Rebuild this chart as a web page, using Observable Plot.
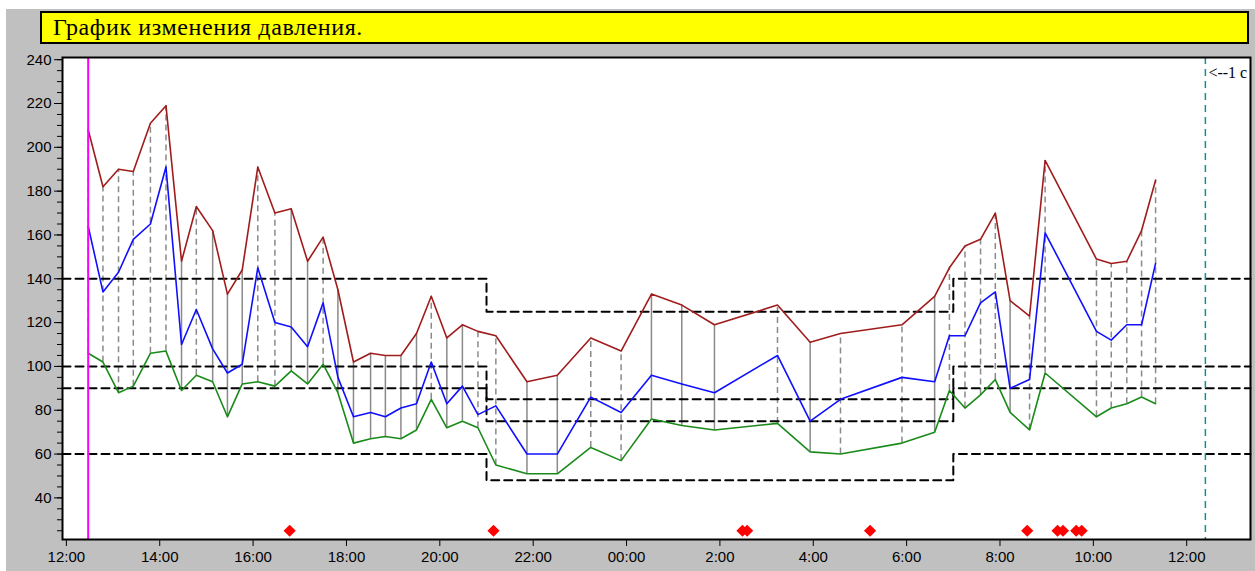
<!DOCTYPE html>
<html><head><meta charset="utf-8">
<script src="https://cdn.jsdelivr.net/npm/d3@7"></script>
<script src="https://cdn.jsdelivr.net/npm/@observablehq/plot@0.6"></script>
<style>
html,body{margin:0;padding:0;background:#fff;width:1255px;height:571px;overflow:hidden;position:relative}
#panel{position:absolute;left:6px;top:9px;right:0;bottom:0;background:#c0c0c0}
#title{position:absolute;left:40px;top:11px;width:1209px;height:33px;box-sizing:border-box;border:2px solid #000;background:#ffff00;font:24px "Liberation Serif",serif;letter-spacing:0.6px;line-height:29px;padding-left:11px;color:#000;white-space:nowrap}
#chart{position:absolute;left:0;top:50px}
#chart svg{font-family:"Liberation Sans",Arial,sans-serif;font-size:15px}
</style></head><body>
<div id="panel"></div>
<div id="title">График изменения давления.</div>
<div id="chart"></div>
<script>
// ---- data ----
const times = ["12:28","12:47","13:07","13:26","13:48","14:08","14:28","14:47","15:08","15:27","15:46","16:06","16:28","16:49","17:10","17:30","17:49","18:09","18:31","18:50","19:10","19:30","19:49","20:09","20:29","20:49","21:12","21:52","22:31","23:14","23:53","00:32","01:11","01:53","03:14","03:56","04:35","05:54","06:36","06:55","07:15","07:35","07:54","08:13","08:38","08:58","10:04","10:23","10:43","11:02","11:20"];
const systolic = [208,182,190,189,211,219,148,173,162,133,144,191,170,172,148,159,135,102,106,105,105,115,132,113,119,116,114,93,96,113,107,133,128,119,128,111,115,119,132,145,155,158,170,130,123,194,149,147,148,162,185];
const meanPressure = [164,134,143,158,165,191,110,126,108,97,101,145,120,118,109,129,95,77,79,77,81,83,102,83,91,78,82,60,60,86,79,96,92,88,105,75,85,95,93,114,114,129,134,90,94,161,116,112,119,119,147];
const diastolic = [106,102,88,91,106,107,89,96,93,77,92,93,91,98,92,101,88,65,67,68,67,71,85,72,75,72,55,51,51,63,57,76,73,71,74,61,60,65,70,89,81,87,94,79,71,97,77,81,83,86,83];
const solidLink = [0,0,0,0,0,0,1,0,1,1,1,0,0,1,1,0,1,1,1,1,1,1,0,1,1,0,0,1,1,0,0,1,1,1,0,1,0,0,1,0,0,0,0,1,0,0,0,0,0,0,0];
const markerTimes = ["16:47","21:09","02:29","02:35","05:13","08:35","09:14","09:21","09:38","09:45"];
const markerLevel = 25;
const normSwitch = ["21:00","07:00"];
const dayNorms = [140,100,90,60];
const nightNorms = [125,85,75,48];
const startMark = "12:28";
const dayMark = "12:24";
const dayMarkLabel = "<--1 с";
const xTickLabels = ["12:00","14:00","16:00","18:00","20:00","22:00","00:00","2:00","4:00","6:00","8:00","10:00","12:00"];
const yTicks = [40,60,80,100,120,140,160,180,200,220,240];
const yMinorTicks = d3.range(25, 241, 5);

// ---- helpers ----
const H = 3600e3;
const T = (s, nextDay) => {
  const [h, m] = s.split(":").map(Number);
  const day = nextDay === undefined ? (h < 12 ? 2 : 1) : (nextDay ? 2 : 1);
  return new Date(Date.UTC(2000, 0, day, h, m));
};
const base = T("12:00", false);
const xStart = new Date(+base - 5 * 60e3);
const xEnd = new Date(+base + 25 * H + 22 * 60e3);
const xTicks = xTickLabels.map((_, i) => new Date(+base + i * 2 * H));
const tickLabel = new Map(xTicks.map((d, i) => [+d, xTickLabels[i]]));

const data = times.map((t, i) => ({t: T(t), sys: systolic[i], mean: meanPressure[i], dia: diastolic[i], solid: solidLink[i]}));
const norms = [];
dayNorms.forEach((v, k) => {
  norms.push({k, t: xStart, v});
  norms.push({k, t: T(normSwitch[0]), v: nightNorms[k]});
  norms.push({k, t: T(normSwitch[1]), v});
  norms.push({k, t: xEnd, v});
});
const dayMarkDate = T(dayMark, true);

const chart = Plot.plot({
  width: 1255, height: 521,
  marginTop: 7, marginBottom: 32, marginLeft: 62, marginRight: 5,
  style: {"font-family": "Liberation Sans, Arial, sans-serif", "font-size": "15px", "background": "transparent", "color": "#000", "overflow": "visible"},
  x: {type: "utc", domain: [xStart, xEnd], label: null},
  y: {domain: [21, 241], label: null},
  marks: [
    Plot.frame({fill: "white", stroke: null}),
    Plot.ruleX(data.filter(d => !d.solid), {x: "t", y1: "dia", y2: "sys", stroke: "#8a8a8a", strokeWidth: 1.5, strokeDasharray: "6,4"}),
    Plot.ruleX(data.filter(d => d.solid), {x: "t", y1: "dia", y2: "sys", stroke: "#8a8a8a", strokeWidth: 1.5}),
    Plot.line(norms, {x: "t", y: "v", z: "k", curve: "step-after", stroke: "#000", strokeWidth: 2, strokeDasharray: "8,5"}),
    Plot.line(data, {x: "t", y: "sys", stroke: "#a01c1c", strokeWidth: 1.6}),
    Plot.line(data, {x: "t", y: "mean", stroke: "#1010ff", strokeWidth: 1.6}),
    Plot.line(data, {x: "t", y: "dia", stroke: "#1a8a1a", strokeWidth: 1.6}),
    Plot.ruleX([T(startMark)], {stroke: "#ff00ff", strokeWidth: 2}),
    Plot.ruleX([dayMarkDate], {stroke: "#109090", strokeWidth: 1.5, strokeDasharray: "7,5"}),
    Plot.text([dayMarkLabel], {x: () => dayMarkDate, y: () => 234, text: d => d, textAnchor: "start", dx: 3, fontFamily: "Liberation Serif, serif", fontSize: 16, fill: "#000"}),
    Plot.dot(markerTimes, {x: d => T(d), y: () => markerLevel, symbol: "diamond2", r: 5.5, fill: "#ff0000", stroke: "none"}),
    Plot.frame({stroke: "#000", strokeWidth: 2}),
    Plot.axisY({ticks: yMinorTicks, tickSize: 5, tickFormat: () => "", label: null}),
    Plot.axisY({ticks: yTicks, tickSize: 8, tickPadding: 3, tickFormat: d => String(d), label: null, fontSize: 15, fontFamily: "Liberation Sans, Arial, sans-serif"}),
    Plot.axisX({ticks: xTicks, tickSize: 7, tickPadding: 5, tickFormat: d => tickLabel.get(+d), label: null, fontSize: 15, fontFamily: "Liberation Sans, Arial, sans-serif"})
  ]
});
document.getElementById("chart").appendChild(chart);
</script>
</body></html>
